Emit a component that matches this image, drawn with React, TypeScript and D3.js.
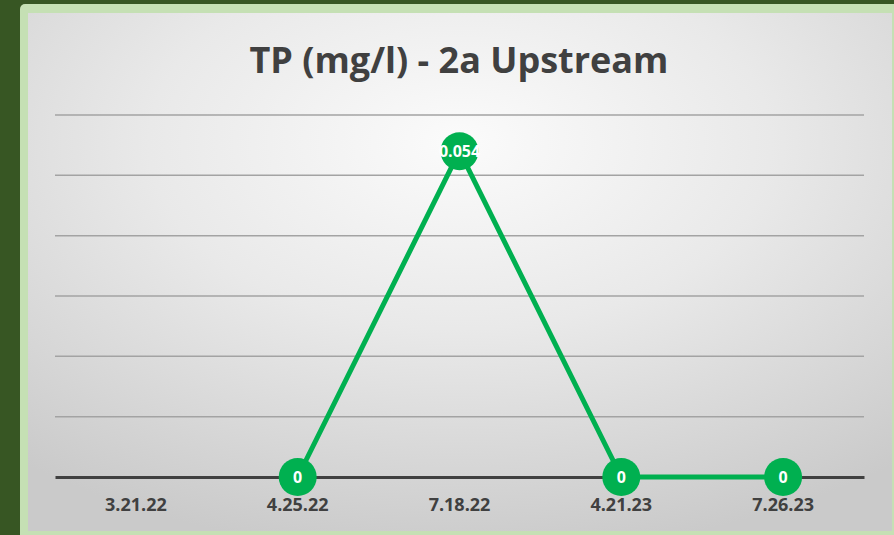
import React, { useEffect, useRef } from "react";
import * as d3 from "d3";

// sample dates and TP readings (null = no reading)
const dates = ["3.21.22", "4.25.22", "7.18.22", "4.21.23", "7.26.23"];
const tpValues: (number | null)[] = [null, 0, 0.054, 0, 0];
const yTicks = [0, 0.01, 0.02, 0.03, 0.04, 0.05, 0.06];
const chartTitle = "TP (mg/l) - 2a Upstream";

const W = 894,
  H = 535;

function drawChart(node: SVGSVGElement) {
  const svg = d3.select(node);
  svg.selectAll("*").remove();

  const margin = { top: 115, right: 30, bottom: 58, left: 55 };
  const innerW = W - margin.left - margin.right;

  // background gradient for the chart panel
  const defs = svg.append("defs");
  const grad = defs
    .append("radialGradient")
    .attr("id", "panelGrad")
    .attr("cx", "50%")
    .attr("cy", "25%")
    .attr("r", "80%");
  grad.append("stop").attr("offset", "0%").attr("stop-color", "#fbfbfb");
  grad.append("stop").attr("offset", "45%").attr("stop-color", "#e9e9e9");
  grad.append("stop").attr("offset", "100%").attr("stop-color", "#cacaca");

  svg.append("rect").attr("width", W).attr("height", H).attr("fill", "#375623");
  svg
    .append("rect")
    .attr("x", 20)
    .attr("y", 4)
    .attr("width", W)
    .attr("height", H)
    .attr("rx", 5)
    .attr("fill", "#c5e0b4");
  svg
    .append("rect")
    .attr("x", 28)
    .attr("y", 13)
    .attr("width", 864)
    .attr("height", 518)
    .attr("fill", "url(#panelGrad)");

  const x = d3.scaleBand().domain(dates).range([margin.left, margin.left + innerW]);
  const y = d3
    .scaleLinear()
    .domain([0, 0.06])
    .range([H - margin.bottom, margin.top]);

  // gridlines
  svg
    .append("g")
    .selectAll("line")
    .data(yTicks.slice(1))
    .join("line")
    .attr("x1", margin.left)
    .attr("x2", margin.left + innerW)
    .attr("y1", (d) => y(d))
    .attr("y2", (d) => y(d))
    .attr("stroke", "#a3a3a3")
    .attr("stroke-width", 1.5);

  // x axis
  const xAxis = svg
    .append("g")
    .attr("transform", `translate(0,${y(0)})`)
    .call(d3.axisBottom(x).tickSize(0).tickPadding(21));
  xAxis.select(".domain").attr("stroke", "#404040").attr("stroke-width", 3);
  xAxis
    .selectAll("text")
    .attr("fill", "#404040")
    .style("font-family", "'Open Sans', sans-serif")
    .style("font-size", "18px")
    .style("font-weight", "bold");

  // title
  svg
    .append("text")
    .attr("x", 459)
    .attr("y", 73)
    .attr("text-anchor", "middle")
    .attr("fill", "#404040")
    .style("font-family", "'Open Sans', sans-serif")
    .style("font-size", "36px")
    .style("font-weight", "bold")
    .text(chartTitle);

  const pts = dates
    .map((d, i) => ({ date: d, value: tpValues[i] }))
    .filter((p) => p.value !== null) as { date: string; value: number }[];
  const cx = (d: string) => (x(d) ?? 0) + x.bandwidth() / 2;

  const line = d3
    .line<{ date: string; value: number }>()
    .x((p) => cx(p.date))
    .y((p) => y(p.value));

  svg
    .append("path")
    .datum(pts)
    .attr("d", line)
    .attr("fill", "none")
    .attr("stroke", "#00b050")
    .attr("stroke-width", 5)
    .attr("stroke-linejoin", "round");

  svg
    .append("g")
    .selectAll("circle")
    .data(pts)
    .join("circle")
    .attr("cx", (p) => cx(p.date))
    .attr("cy", (p) => y(p.value))
    .attr("r", 19)
    .attr("fill", "#00b050");

  svg
    .append("g")
    .selectAll("text")
    .data(pts)
    .join("text")
    .attr("x", (p) => cx(p.date))
    .attr("y", (p) => y(p.value) + 6)
    .attr("text-anchor", "middle")
    .attr("fill", "#ffffff")
    .style("font-family", "'Open Sans', sans-serif")
    .style("font-size", "16px")
    .style("font-weight", "bold")
    .text((p) => String(p.value));
}

export default function App() {
  const ref = useRef<SVGSVGElement>(null);
  useEffect(() => {
    if (ref.current) drawChart(ref.current);
  }, []);
  return (
    <svg
      ref={ref}
      width={W}
      height={H}
      style={{ position: "fixed", left: 0, top: 0, display: "block" }}
    />
  );
}
